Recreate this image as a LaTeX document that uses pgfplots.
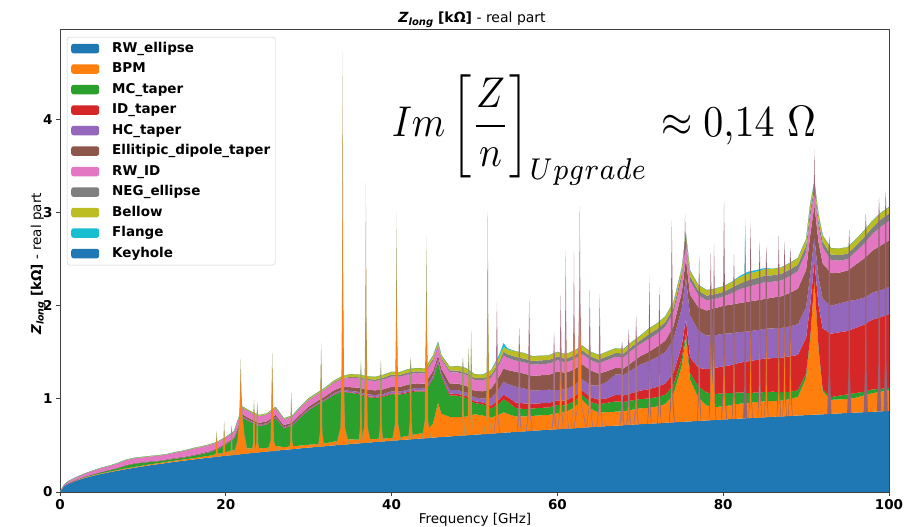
\documentclass[border=0pt]{standalone}
\usepackage[no-math]{fontspec}
\setmainfont{DejaVu Sans}[BoldFont={DejaVu Sans Bold},ItalicFont={DejaVu Sans Oblique},BoldItalicFont={DejaVu Sans Bold Oblique}]
\usepackage{graphicx}
\usepackage{pgfplots}
\pgfplotsset{compat=1.18}
\usepackage{pgfplotstable}
\definecolor{cRW}{HTML}{1F77B4}
\definecolor{cBPM}{HTML}{FF7F0E}
\definecolor{cMC}{HTML}{2CA02C}
\definecolor{cID}{HTML}{D62728}
\definecolor{cHC}{HTML}{9467BD}
\definecolor{cEL}{HTML}{8C564B}
\definecolor{cRWID}{HTML}{E377C2}
\definecolor{cNEG}{HTML}{7F7F7F}
\definecolor{cBEL}{HTML}{BCBD22}
\definecolor{cFL}{HTML}{17BECF}
\definecolor{cKEY}{HTML}{1F77B4}
\definecolor{spikeA}{RGB}{150,158,100}
\definecolor{spikeB}{RGB}{170,115,140}
\definecolor{spikeC}{RGB}{150,100,115}
\pgfplotsset{
  spA/.style={fill=spikeA, draw=none, forget plot},
  spB/.style={fill=spikeB, draw=none, forget plot},
  spC/.style={fill=spikeC, draw=none, forget plot},
  spO/.style={fill=cBPM, draw=none, forget plot},
  spF/.style={fill=cFL, draw=none, forget plot},
}
\pgfplotstableread{
x rw bpm mc id hc ell rwid neg bel fl key
0 0 0 0 0 0 0 0 0 0 0 0
0.5 .062 .002 .002 0 0 0 .012 0 .002 0 0
1 .087 .003 .003 0 0 .001 .020 0 .003 0 0
2 .123 .004 .005 0 0 .002 .025 0 .003 0 0
3 .151 .005 .008 0 0 .002 .030 .001 .003 0 0
4 .174 .005 .010 0 0 .003 .035 .001 .004 0 0
5 .195 .006 .012 0 0 .003 .040 .001 .004 0 0
6 .213 .006 .015 0 .001 .004 .040 .001 .004 0 0
7 .230 .007 .020 0 .001 .004 .045 .001 .005 0 0
8 .246 .008 .030 0 .002 .005 .050 .002 .005 0 0
9 .261 .008 .035 0 .002 .005 .050 .002 .005 0 0
10 .275 .009 .030 0 .002 .005 .050 .002 .005 0 0
11 .289 .010 .025 0 .002 .005 .050 .002 .005 0 0
12 .301 .010 .020 .001 .002 .005 .050 .002 .005 0 0
13 .314 .011 .020 .001 .002 .005 .050 .002 .005 0 0
14 .326 .012 .020 .001 .003 .006 .055 .002 .005 0 0
15 .337 .013 .020 .001 .003 .006 .060 .002 .005 0 0
16 .348 .014 .025 .001 .003 .006 .065 .002 .006 0 0
17 .359 .016 .030 .001 .003 .007 .065 .002 .006 0 0
18 .369 .020 .035 .001 .004 .008 .065 .002 .006 0 0
19 .379 .030 .050 .001 .004 .008 .060 .002 .006 0 0
20 .389 .040 .080 .002 .005 .008 .060 .002 .006 0 0
21 .399 .050 .120 .002 .005 .010 .060 .002 .006 0 0
22 .408 .060 .330 .005 .010 .020 .070 .005 .010 0 0
23 .417 .050 .280 .005 .010 .020 .070 .005 .010 0 0
24 .426 .040 .240 .005 .010 .020 .070 .005 .010 0 0
25 .435 .040 .250 .005 .010 .020 .070 .005 .010 0 0
26 .444 .050 .300 .005 .010 .020 .070 .005 .010 0 0
27 .452 .030 .200 .005 .010 .020 .060 .005 .010 0 0
28 .460 .030 .220 .005 .010 .020 .060 .005 .010 0 0
29 .469 .030 .300 .005 .010 .020 .070 .005 .010 0 0
30 .477 .030 .370 .005 .010 .025 .070 .005 .015 0 0
31 .484 .030 .420 .005 .010 .025 .070 .005 .015 0 0
32 .492 .030 .460 .005 .012 .028 .075 .005 .015 0 0
33 .500 .040 .500 .005 .015 .030 .080 .008 .015 0 0
34 .507 .050 .520 .005 .015 .030 .085 .010 .020 0 0
35 .515 .050 .500 .005 .015 .040 .100 .010 .030 0 0
36 .522 .040 .490 .008 .015 .045 .100 .012 .030 0 0
37 .529 .040 .450 .010 .020 .050 .100 .015 .030 0 0
38 .536 .035 .440 .010 .020 .050 .100 .015 .030 0 0
39 .543 .030 .450 .010 .020 .050 .105 .020 .030 0 0
40 .550 .030 .470 .010 .020 .050 .110 .020 .030 0 0
41 .557 .030 .460 .010 .020 .050 .110 .020 .030 0 0
42 .564 .040 .460 .010 .025 .055 .110 .020 .035 0 0
43 .571 .050 .460 .010 .025 .050 .110 .020 .035 0 0
44 .577 .060 .440 .010 .025 .050 .110 .020 .035 0 0
45 .584 .150 .480 .010 .025 .050 .110 .020 .035 0 0
45.6 .588 .370 .430 .010 .025 .045 .100 .015 .025 .005 0
46 .590 .250 .400 .010 .025 .050 .100 .015 .030 0 0
47 .596 .210 .230 .020 .040 .070 .120 .020 .040 0 0
48 .603 .200 .230 .020 .040 .070 .120 .020 .050 0 0
49 .609 .200 .200 .020 .040 .070 .120 .020 .050 0 0
50 .615 .220 .120 .020 .040 .070 .120 .020 .040 0 0
51 .621 .200 .120 .020 .040 .080 .120 .020 .040 0 0
52 .627 .170 .100 .030 .080 .100 .120 .030 .050 0 0
53 .633 .200 .120 .040 .120 .130 .130 .030 .050 .020 0
53.5 .636 .220 .140 .050 .140 .140 .140 .040 .050 .040 0
54 .639 .200 .130 .050 .140 .150 .130 .040 .050 .010 0
55 .645 .165 .090 .060 .170 .160 .120 .040 .060 0 0
56 .651 .160 .080 .060 .160 .160 .120 .040 .060 0 0
57 .657 .160 .080 .050 .140 .160 .120 .040 .050 0 0
58 .663 .160 .080 .050 .140 .160 .120 .040 .050 0 0
59 .668 .160 .080 .050 .140 .160 .120 .040 .050 0 0
60 .674 .170 .090 .050 .110 .200 .120 .040 .050 0 0
61 .680 .180 .070 .050 .120 .180 .110 .040 .050 0 0
62 .685 .220 .070 .050 .120 .170 .110 .040 .050 0 0
63 .691 .300 .050 .050 .120 .160 .110 .040 .050 0 0
64 .696 .200 .070 .050 .130 .160 .110 .040 .050 0 0
65 .701 .150 .090 .050 .150 .130 .110 .040 .050 0 0
66 .707 .150 .100 .050 .180 .110 .120 .040 .050 0 0
67 .712 .150 .110 .070 .220 .070 .120 .040 .050 0 0
68 .717 .150 .100 .070 .220 .070 .120 .040 .050 0 0
69 .723 .160 .100 .080 .250 .080 .130 .040 .050 0 0
70 .728 .170 .100 .090 .280 .090 .130 .040 .050 0 0
71 .733 .170 .100 .100 .300 .100 .140 .050 .060 0 0
72 .738 .180 .100 .110 .320 .110 .140 .050 .060 0 0
73 .743 .200 .100 .120 .340 .120 .150 .050 .060 0 0
74 .748 .300 .100 .130 .360 .140 .150 .050 .060 0 0
75 .753 .600 .080 .140 .400 .170 .150 .050 .060 0 0
75.5 .755 .900 .050 .150 .450 .200 .160 .050 .060 0 0
76 .758 .450 .070 .170 .450 .220 .150 .050 .060 0 0
77 .763 .250 .120 .200 .400 .250 .130 .050 .060 0 0
78 .768 .160 .140 .250 .360 .270 .110 .050 .060 0 0
79 .773 .140 .140 .280 .350 .290 .100 .050 .060 0 0
80 .778 .140 .140 .290 .350 .300 .100 .050 .060 0 0
81 .783 .150 .130 .300 .340 .310 .120 .060 .060 0 0
82 .788 .160 .120 .320 .330 .310 .150 .060 .070 .010 0
83 .793 .160 .110 .340 .320 .320 .160 .070 .070 .020 0
84 .797 .170 .100 .350 .320 .320 .170 .070 .070 .015 0
85 .802 .170 .100 .360 .320 .320 .180 .070 .070 .010 0
86 .807 .170 .100 .360 .320 .330 .170 .070 .070 0 0
87 .811 .170 .090 .370 .320 .340 .170 .070 .070 0 0
88 .816 .180 .080 .380 .320 .360 .180 .070 .070 0 0
89 .821 .200 .070 .380 .330 .380 .190 .070 .070 0 0
90 .825 .400 .050 .380 .330 .400 .190 .070 .070 0 0
90.5 .828 .800 .030 .350 .330 .420 .200 .070 .070 0 0
91 .830 1.450 .000 .200 .250 .350 .150 .050 .050 0 0
91.5 .832 .700 .020 .450 .300 .380 .170 .060 .070 0 0
92 .834 .250 .020 .650 .320 .380 .170 .060 .070 0 0
93 .839 .150 .030 .680 .300 .350 .140 .060 .070 0 0
94 .844 .150 .040 .680 .310 .330 .130 .060 .070 0 0
95 .848 .150 .050 .680 .320 .330 .120 .060 .070 0 0
96 .852 .160 .050 .700 .300 .380 .140 .060 .070 0 0
97 .857 .180 .040 .720 .290 .420 .160 .070 .070 0 0
98 .861 .200 .040 .750 .290 .450 .180 .070 .070 0 0
99 .866 .210 .030 .770 .290 .480 .200 .080 .070 0 0
100 .870 .220 .030 .790 .290 .500 .210 .080 .070 0 0
}\zdata
\begin{document}
\begin{tikzpicture}
\path[use as bounding box] (0,0) rectangle (907pt,527pt);
\begin{axis}[
  at={(60pt,35pt)}, anchor=south west, scale only axis,
  width=829pt, height=463pt,
  xmin=0, xmax=100, ymin=0, ymax=4.97,
  xtick={0,20,40,60,80,100}, ytick={0,1,2,3,4},
  tick align=outside, tick pos=left, major tick length=4pt,
  axis line style={black!75, line width=0.8pt},
  every tick/.style={black!75, line width=0.8pt},
  /pgf/number format/assume math mode=true,
  tick label style={font=\bfseries\fontsize{13.5}{14}\selectfont},
  legend cell align=left,
  legend image code/.code={\fill[#1, fill opacity=1] (0pt,-4.8pt) rectangle (28pt,4.8pt);},
  legend style={at={(0.0084,0.983)}, anchor=north west, draw=black!20,
    rounded corners=2.5pt, fill=white, fill opacity=0.8, text opacity=1,
    font=\bfseries\fontsize{13.5}{15}\selectfont, inner xsep=4pt, inner ysep=4pt,
    row sep=5.5pt, nodes={inner sep=1pt, text height=10pt, text depth=3pt},
    /tikz/every odd column/.append style={column sep=12pt}},
]
\addplot[stack plots=y, fill=cRW, draw=none] table[x=x,y=rw]{\zdata} \closedcycle;
\addplot[stack plots=y, fill=cBPM, draw=none] table[x=x,y=bpm]{\zdata} \closedcycle;
\addplot[stack plots=y, fill=cMC, draw=none] table[x=x,y=mc]{\zdata} \closedcycle;
\addplot[stack plots=y, fill=cID, draw=none] table[x=x,y=id]{\zdata} \closedcycle;
\addplot[stack plots=y, fill=cHC, draw=none] table[x=x,y=hc]{\zdata} \closedcycle;
\addplot[stack plots=y, fill=cEL, draw=none] table[x=x,y=ell]{\zdata} \closedcycle;
\addplot[stack plots=y, fill=cRWID, draw=none] table[x=x,y=rwid]{\zdata} \closedcycle;
\addplot[stack plots=y, fill=cNEG, draw=none] table[x=x,y=neg]{\zdata} \closedcycle;
\addplot[stack plots=y, fill=cBEL, draw=none] table[x=x,y=bel]{\zdata} \closedcycle;
\addplot[stack plots=y, fill=cFL, draw=none] table[x=x,y=fl]{\zdata} \closedcycle;
\addplot[stack plots=y, fill=cKEY, draw=none] table[x=x,y=key]{\zdata} \closedcycle;
\legend{RW\_ellipse,BPM,MC\_taper,ID\_taper,HC\_taper,Ellitipic\_dipole\_taper,RW\_ID,NEG\_ellipse,Bellow,Flange,Keyhole}
% type A spikes (BPM dominated)
\addplot[spA] coordinates {(18.6,.378) (18.795,.418) (18.82,.54) (18.9,.66) (18.98,.54) (19.005,.418) (19.2,.378)} -- cycle;
\addplot[spO] coordinates {(18.66,.378) (18.816,.418) (18.852,.54) (18.9,.58) (18.948,.54) (18.984,.418) (19.14,.378)} -- cycle;
\addplot[spA] coordinates {(19.45,.387) (19.678,.433) (19.72,.57) (19.8,.77) (19.88,.57) (19.923,.433) (20.15,.387)} -- cycle;
\addplot[spO] coordinates {(19.52,.387) (19.702,.433) (19.752,.57) (19.8,.67) (19.848,.57) (19.898,.433) (20.08,.387)} -- cycle;
\addplot[spA] coordinates {(20.4,.396) (20.595,.452) (20.62,.62) (20.7,.72) (20.78,.62) (20.805,.452) (21.0,.396)} -- cycle;
\addplot[spO] coordinates {(20.46,.396) (20.625,.452) (20.7,.62) (20.775,.452) (20.94,.396)} -- cycle;
\addplot[spA] coordinates {(20.9,.40) (21.4,.55) (21.6,.75) (21.72,1.1) (21.8,1.43) (21.88,1.1) (22.0,.85) (22.25,.62) (22.7,.415)} -- cycle;
\addplot[spO] coordinates {(21.0,.40) (21.45,.55) (21.65,.78) (21.75,1.05) (21.8,1.28) (21.85,1.05) (21.95,.82) (22.2,.6) (22.6,.414)} -- cycle;
\addplot[spA] coordinates {(23.1,.421) (23.295,.528) (23.32,.85) (23.4,.99) (23.48,.85) (23.505,.528) (23.7,.421)} -- cycle;
\addplot[spO] coordinates {(23.16,.421) (23.316,.528) (23.352,.85) (23.4,.87) (23.448,.85) (23.484,.528) (23.64,.421)} -- cycle;
\addplot[spA] coordinates {(23.5,.424) (23.695,.525) (23.72,.83) (23.8,.97) (23.88,.83) (23.905,.525) (24.1,.424)} -- cycle;
\addplot[spO] coordinates {(23.56,.424) (23.716,.525) (23.752,.83) (23.8,.85) (23.848,.83) (23.884,.525) (24.04,.424)} -- cycle;
\addplot[spA] coordinates {(25.0,.44) (25.39,.55) (25.48,.88) (25.6,1.49) (25.72,.88) (25.81,.55) (26.2,.44)} -- cycle;
\addplot[spO] coordinates {(25.12,.44) (25.432,.55) (25.528,.88) (25.6,1.34) (25.672,.88) (25.768,.55) (26.08,.44)} -- cycle;
\addplot[spA] coordinates {(27.6,.46) (27.795,.55) (27.82,.82) (27.9,1.08) (27.98,.82) (28.005,.55) (28.2,.46)} -- cycle;
\addplot[spO] coordinates {(27.66,.46) (27.816,.55) (27.852,.82) (27.9,.96) (27.948,.82) (27.984,.55) (28.14,.46)} -- cycle;
\addplot[spA] coordinates {(31.1,.488) (31.36,.638) (31.4,1.09) (31.5,1.6) (31.6,1.09) (31.64,.638) (31.9,.488)} -- cycle;
\addplot[spO] coordinates {(31.18,.488) (31.388,.638) (31.44,1.09) (31.5,1.45) (31.56,1.09) (31.612,.638) (31.82,.488)} -- cycle;
\addplot[spA] coordinates {(33.3,.505) (33.82,.69) (33.95,1.23) (34.04,2.45) (34.1,4.72) (34.16,2.45) (34.25,1.24) (34.38,.69) (34.9,.512)} -- cycle;
\addplot[spO] coordinates {(33.42,.505) (33.876,.69) (34.0,1.23) (34.065,2.3) (34.1,4.12) (34.135,2.3) (34.2,1.24) (34.324,.69) (34.78,.512)} -- cycle;
\addplot[spA] coordinates {(36.0,.522) (36.195,.708) (36.22,1.26) (36.3,1.42) (36.38,1.26) (36.405,.708) (36.6,.526)} -- cycle;
\addplot[spO] coordinates {(36.06,.524) (36.225,.673) (36.3,1.12) (36.375,.673) (36.54,.524)} -- cycle;
\addplot[spA] coordinates {(36.3,.528) (36.69,.706) (36.75,1.24) (36.84,1.97) (36.9,3.32) (36.96,1.97) (37.05,1.24) (37.11,.706) (37.5,.532)} -- cycle;
\addplot[spO] coordinates {(36.42,.528) (36.732,.706) (36.81,1.24) (36.865,1.76) (36.9,2.72) (36.935,1.76) (36.99,1.24) (37.068,.706) (37.38,.532)} -- cycle;
\addplot[spA] coordinates {(38.4,.539) (38.595,.716) (38.62,1.24) (38.7,1.42) (38.78,1.24) (38.805,.716) (39.0,.543)} -- cycle;
\addplot[spO] coordinates {(38.46,.539) (38.625,.686) (38.7,1.12) (38.775,.686) (38.94,.543)} -- cycle;
\addplot[spA] coordinates {(40.05,.552) (40.408,.738) (40.45,1.29) (40.54,1.89) (40.6,3.0) (40.66,1.89) (40.75,1.29) (40.793,.738) (41.15,.558)} -- cycle;
\addplot[spO] coordinates {(40.16,.552) (40.446,.738) (40.51,1.29) (40.565,1.68) (40.6,2.4) (40.635,1.68) (40.69,1.29) (40.754,.738) (41.04,.558)} -- cycle;
\addplot[spA] coordinates {(42.0,.564) (42.195,.755) (42.22,1.32) (42.3,1.45) (42.38,1.32) (42.405,.755) (42.6,.568)} -- cycle;
\addplot[spO] coordinates {(42.06,.564) (42.225,.712) (42.3,1.15) (42.375,.712) (42.54,.568)} -- cycle;
\addplot[spA] coordinates {(43.65,.575) (44.008,.771) (44.05,1.35) (44.14,1.84) (44.2,2.74) (44.26,1.84) (44.35,1.36) (44.393,.771) (44.75,.582)} -- cycle;
\addplot[spO] coordinates {(43.76,.575) (44.046,.771) (44.11,1.35) (44.165,1.63) (44.2,2.14) (44.235,1.63) (44.29,1.36) (44.354,.771) (44.64,.582)} -- cycle;
\addplot[spA] coordinates {(48.3,.604) (48.495,.79) (48.52,1.34) (48.6,1.45) (48.68,1.34) (48.705,.79) (48.9,.608)} -- cycle;
\addplot[spO] coordinates {(48.36,.604) (48.525,.742) (48.6,1.15) (48.675,.742) (48.84,.608)} -- cycle;
\addplot[spA] coordinates {(49.0,.609) (49.2,.79) (49.22,1.32) (49.3,1.55) (49.38,1.32) (49.45,1.0) (49.52,1.31) (49.6,1.74) (49.68,1.3) (49.7,.79) (49.9,.614)} -- cycle;
\addplot[spO] coordinates {(49.06,.609) (49.23,.76) (49.3,1.25) (49.37,.76) (49.45,.7) (49.53,.8) (49.6,1.44) (49.67,.8) (49.84,.614)} -- cycle;
\addplot[spA] coordinates {(51.05,.622) (51.408,.786) (51.45,1.27) (51.54,1.875) (51.6,3.0) (51.66,1.875) (51.75,1.28) (51.793,.786) (52.15,.628)} -- cycle;
\addplot[spO] coordinates {(51.16,.622) (51.446,.786) (51.51,1.27) (51.565,1.67) (51.6,2.4) (51.635,1.67) (51.69,1.28) (51.754,.786) (52.04,.628)} -- cycle;
% type B spikes
\addplot[spB] coordinates {(52.3,.63) (52.56,.829) (52.6,1.42) (52.7,2.03) (52.8,1.43) (52.84,.829) (53.1,.634)} -- cycle;
\addplot[spO] coordinates {(52.38,.63) (52.6,.782) (52.7,1.23) (52.8,.782) (53.02,.634)} -- cycle;
\addplot[spB] coordinates {(55.1,.646) (55.295,.866) (55.32,1.52) (55.4,1.76) (55.48,1.52) (55.505,.866) (55.7,.65)} -- cycle;
\addplot[spO] coordinates {(55.16,.646) (55.325,.726) (55.4,.96) (55.475,.726) (55.64,.65)} -- cycle;
\addplot[spB] coordinates {(56.2,.653) (56.46,.864) (56.5,1.49) (56.6,2.06) (56.7,1.49) (56.74,.864) (57.0,.657)} -- cycle;
\addplot[spO] coordinates {(56.28,.653) (56.5,.806) (56.6,1.26) (56.7,.806) (56.92,.657)} -- cycle;
\addplot[spB] coordinates {(59.3,.67) (59.495,.877) (59.52,1.49) (59.6,1.72) (59.68,1.49) (59.705,.877) (59.9,.674)} -- cycle;
\addplot[spO] coordinates {(59.36,.67) (59.525,.734) (59.6,.92) (59.675,.734) (59.84,.674)} -- cycle;
\addplot[spB] coordinates {(60.0,.674) (60.26,.882) (60.3,1.5) (60.4,2.12) (60.5,1.5) (60.54,.882) (60.8,.678)} -- cycle;
\addplot[spO] coordinates {(60.08,.674) (60.3,.837) (60.4,1.32) (60.5,.837) (60.72,.678)} -- cycle;
\addplot[spB] coordinates {(60.6,.678) (60.86,.88) (60.88,1.48) (60.94,1.87) (61.0,2.6) (61.06,1.87) (61.12,1.48) (61.14,.88) (61.4,.682)} -- cycle;
\addplot[spO] coordinates {(60.68,.678) (60.888,.88) (60.93,1.48) (61.0,1.8) (61.07,1.48) (61.112,.88) (61.32,.682)} -- cycle;
\addplot[spB] coordinates {(61.6,.683) (61.86,.893) (61.88,1.515) (61.94,1.89) (62.0,2.58) (62.06,1.89) (62.12,1.52) (62.14,.893) (62.4,.688)} -- cycle;
\addplot[spO] coordinates {(61.68,.683) (61.888,.893) (61.93,1.515) (62.0,1.78) (62.07,1.52) (62.112,.893) (62.32,.688)} -- cycle;
\addplot[spB] coordinates {(61.9,.684) (62.42,.907) (62.52,1.56) (62.63,2.09) (62.7,3.07) (62.77,2.09) (62.88,1.56) (62.98,.907) (63.5,.694)} -- cycle;
\addplot[spO] coordinates {(62.02,.684) (62.476,.907) (62.59,1.56) (62.66,1.77) (62.7,2.17) (62.74,1.77) (62.81,1.56) (62.924,.907) (63.38,.694)} -- cycle;
\addplot[spB] coordinates {(63.5,.693) (63.76,.899) (63.8,1.51) (63.9,2.17) (64.0,1.51) (64.04,.899) (64.3,.698)} -- cycle;
\addplot[spO] coordinates {(63.58,.695) (63.8,.864) (63.9,1.37) (64.0,.864) (64.22,.697)} -- cycle;
\addplot[spB] coordinates {(64.7,.70) (64.96,.894) (65.0,1.47) (65.1,2.12) (65.2,1.47) (65.24,.894) (65.5,.704)} -- cycle;
\addplot[spO] coordinates {(64.78,.70) (65.0,.857) (65.1,1.32) (65.2,.857) (65.42,.704)} -- cycle;
\addplot[spB] coordinates {(67.5,.714) (67.695,.922) (67.72,1.54) (67.8,1.62) (67.88,1.54) (67.905,.922) (68.1,.718)} -- cycle;
\addplot[spO] coordinates {(67.56,.714) (67.725,.762) (67.8,.9) (67.875,.762) (68.04,.718)} -- cycle;
\addplot[spB] coordinates {(68.3,.719) (68.495,.933) (68.52,1.57) (68.6,1.75) (68.68,1.58) (68.705,.933) (68.9,.721)} -- cycle;
\addplot[spO] coordinates {(68.36,.719) (68.525,.778) (68.6,.95) (68.675,.778) (68.84,.721)} -- cycle;
\addplot[spB] coordinates {(69.2,.723) (69.395,.954) (69.42,1.63) (69.5,1.9) (69.58,1.65) (69.605,.954) (69.8,.727)} -- cycle;
\addplot[spO] coordinates {(69.26,.723) (69.425,.819) (69.5,1.1) (69.575,.819) (69.74,.727)} -- cycle;
% type C spikes (mixed)
\addplot[spC] coordinates {(70.85,.731) (71.013,.99) (71.03,1.76) (71.1,2.31) (71.17,1.76) (71.188,.99) (71.35,.735)} -- cycle;
\addplot[spO] coordinates {(70.9,.731) (71.04,.887) (71.1,1.35) (71.16,.887) (71.3,.735)} -- cycle;
\addplot[spC] coordinates {(72.05,.736) (72.213,1.006) (72.23,1.81) (72.3,2.2) (72.37,1.81) (72.388,1.006) (72.55,.74)} -- cycle;
\addplot[spO] coordinates {(72.1,.736) (72.24,.898) (72.3,1.38) (72.36,.898) (72.5,.74)} -- cycle;
\addplot[spC] coordinates {(73.45,.745) (73.678,1.06) (73.7,2.0) (73.8,2.91) (73.9,2.02) (73.923,1.06) (74.15,.749)} -- cycle;
\addplot[spO] coordinates {(73.52,.745) (73.71,.935) (73.8,1.5) (73.89,.935) (74.08,.749)} -- cycle;
\addplot[spC] coordinates {(75.22,2.5) (75.34,2.7) (75.4,2.98) (75.46,2.75) (75.58,2.65)} -- cycle;
\addplot[spC] coordinates {(76.85,.762) (77.013,1.123) (77.03,2.21) (77.1,2.53) (77.17,2.2) (77.188,1.123) (77.35,.766)} -- cycle;
\addplot[spO] coordinates {(76.9,.762) (77.04,.971) (77.1,1.59) (77.16,.971) (77.3,.766)} -- cycle;
\addplot[spC] coordinates {(78.25,.769) (78.413,1.12) (78.43,2.17) (78.5,2.57) (78.57,2.18) (78.7,1.6) (78.83,2.18) (78.9,2.66) (78.97,2.18) (78.988,1.12) (79.15,.775)} -- cycle;
\addplot[spO] coordinates {(78.3,.769) (78.44,.97) (78.5,1.6) (78.7,1.1) (78.9,1.6) (78.96,.97) (79.1,.775)} -- cycle;
\addplot[spC] coordinates {(79.75,.777) (79.978,1.137) (80.0,2.21) (80.1,3.12) (80.2,2.21) (80.223,1.137) (80.45,.781)} -- cycle;
\addplot[spO] coordinates {(79.82,.777) (80.01,.994) (80.1,1.64) (80.19,.994) (80.38,.781)} -- cycle;
\addplot[spC] coordinates {(81.05,.782) (81.213,1.153) (81.23,2.26) (81.3,2.55) (81.37,2.26) (81.388,1.153) (81.55,.786)} -- cycle;
\addplot[spO] coordinates {(81.1,.782) (81.24,1.004) (81.3,1.67) (81.36,1.004) (81.5,.786)} -- cycle;
\addplot[spC] coordinates {(82.4,.79) (82.563,1.18) (82.58,2.35) (82.65,2.75) (82.72,2.35) (82.738,1.18) (82.9,.793)} -- cycle;
\addplot[spF] coordinates {(82.59,2.36) (82.65,2.93) (82.71,2.36)} -- cycle;
\addplot[spC] coordinates {(83.05,.793) (83.213,1.188) (83.23,2.37) (83.3,2.89) (83.37,2.37) (83.388,1.188) (83.55,.796)} -- cycle;
\addplot[spO] coordinates {(83.1,.793) (83.24,1.03) (83.3,1.74) (83.36,1.03) (83.5,.796)} -- cycle;
\addplot[spC] coordinates {(84.15,.798) (84.313,1.197) (84.33,2.39) (84.4,2.69) (84.47,2.39) (84.488,1.197) (84.65,.801)} -- cycle;
\addplot[spO] coordinates {(84.2,.798) (84.34,1.037) (84.4,1.75) (84.46,1.037) (84.6,.801)} -- cycle;
\addplot[spC] coordinates {(84.95,.802) (85.113,1.202) (85.13,2.4) (85.2,2.64) (85.27,2.4) (85.288,1.202) (85.45,.804)} -- cycle;
\addplot[spO] coordinates {(85.0,.802) (85.14,1.042) (85.2,1.76) (85.26,1.042) (85.4,.804)} -- cycle;
\addplot[spC] coordinates {(86.45,.809) (86.613,1.208) (86.63,2.4) (86.7,2.75) (86.77,2.4) (86.788,1.208) (86.95,.811)} -- cycle;
\addplot[spO] coordinates {(86.5,.809) (86.64,1.048) (86.7,1.76) (86.76,1.048) (86.9,.811)} -- cycle;
\addplot[spC] coordinates {(87.15,.812) (87.313,1.215) (87.33,2.42) (87.4,2.69) (87.47,2.42) (87.488,1.215) (87.65,.814)} -- cycle;
\addplot[spO] coordinates {(87.2,.812) (87.34,1.055) (87.4,1.78) (87.46,1.055) (87.6,.814)} -- cycle;
\addplot[spC] coordinates {(87.85,.816) (88.013,1.228) (88.03,2.46) (88.1,2.62) (88.17,2.46) (88.188,1.228) (88.35,.818)} -- cycle;
\addplot[spO] coordinates {(87.9,.816) (88.04,1.063) (88.1,1.8) (88.16,1.063) (88.3,.818)} -- cycle;
\addplot[spC] coordinates {(90.85,3.2) (90.95,3.35) (91.0,3.68) (91.05,3.35) (91.15,3.15)} -- cycle;
\addplot[spC] coordinates {(92.55,.836) (92.713,1.286) (92.73,2.63) (92.8,2.75) (92.87,2.62) (92.888,1.286) (93.05,.84)} -- cycle;
\addplot[spC] coordinates {(94.95,.848) (95.113,1.297) (95.13,2.64) (95.2,2.82) (95.27,2.64) (95.288,1.297) (95.45,.85)} -- cycle;
\addplot[spC] coordinates {(96.95,.857) (97.113,1.351) (97.13,2.83) (97.2,2.99) (97.27,2.84) (97.288,1.351) (97.45,.859)} -- cycle;
\addplot[spC] coordinates {(98.55,.864) (98.713,1.394) (98.73,2.97) (98.8,3.16) (98.87,2.98) (98.888,1.394) (99.05,.866)} -- cycle;
\addplot[spC] coordinates {(99.35,.867) (99.513,1.408) (99.53,3.02) (99.6,3.23) (99.67,3.04) (99.688,1.408) (99.85,.869)} -- cycle;
\end{axis}
\node[anchor=base] at (472pt,504pt) {\fontsize{14}{16}\selectfont\textbf{\textit{Z}\raisebox{-0.35ex}{\fontsize{10}{11}\selectfont\textit{long}} [kΩ]} - real part};
\node[anchor=base] at (475pt,3pt) {\fontsize{13.5}{15}\selectfont Frequency [GHz]};
\node[anchor=base, rotate=90] at (41pt,263pt) {\fontsize{13.5}{15}\selectfont\textbf{\textit{Z}\raisebox{-0.35ex}{\fontsize{9.5}{11}\selectfont\textit{long}} [kΩ]} - real part};
\node[anchor=base west, inner sep=0pt] at (392pt,390pt) {\scalebox{3.8}[4.3]{$\displaystyle Im\left[\frac{Z}{n}\right]_{Upgrade}$}};
\node[anchor=base west, inner sep=0pt] at (661pt,390pt) {\scalebox{4.0}[4.4]{$\approx 0{,}14\ \Omega$}};
\end{tikzpicture}
\end{document}
